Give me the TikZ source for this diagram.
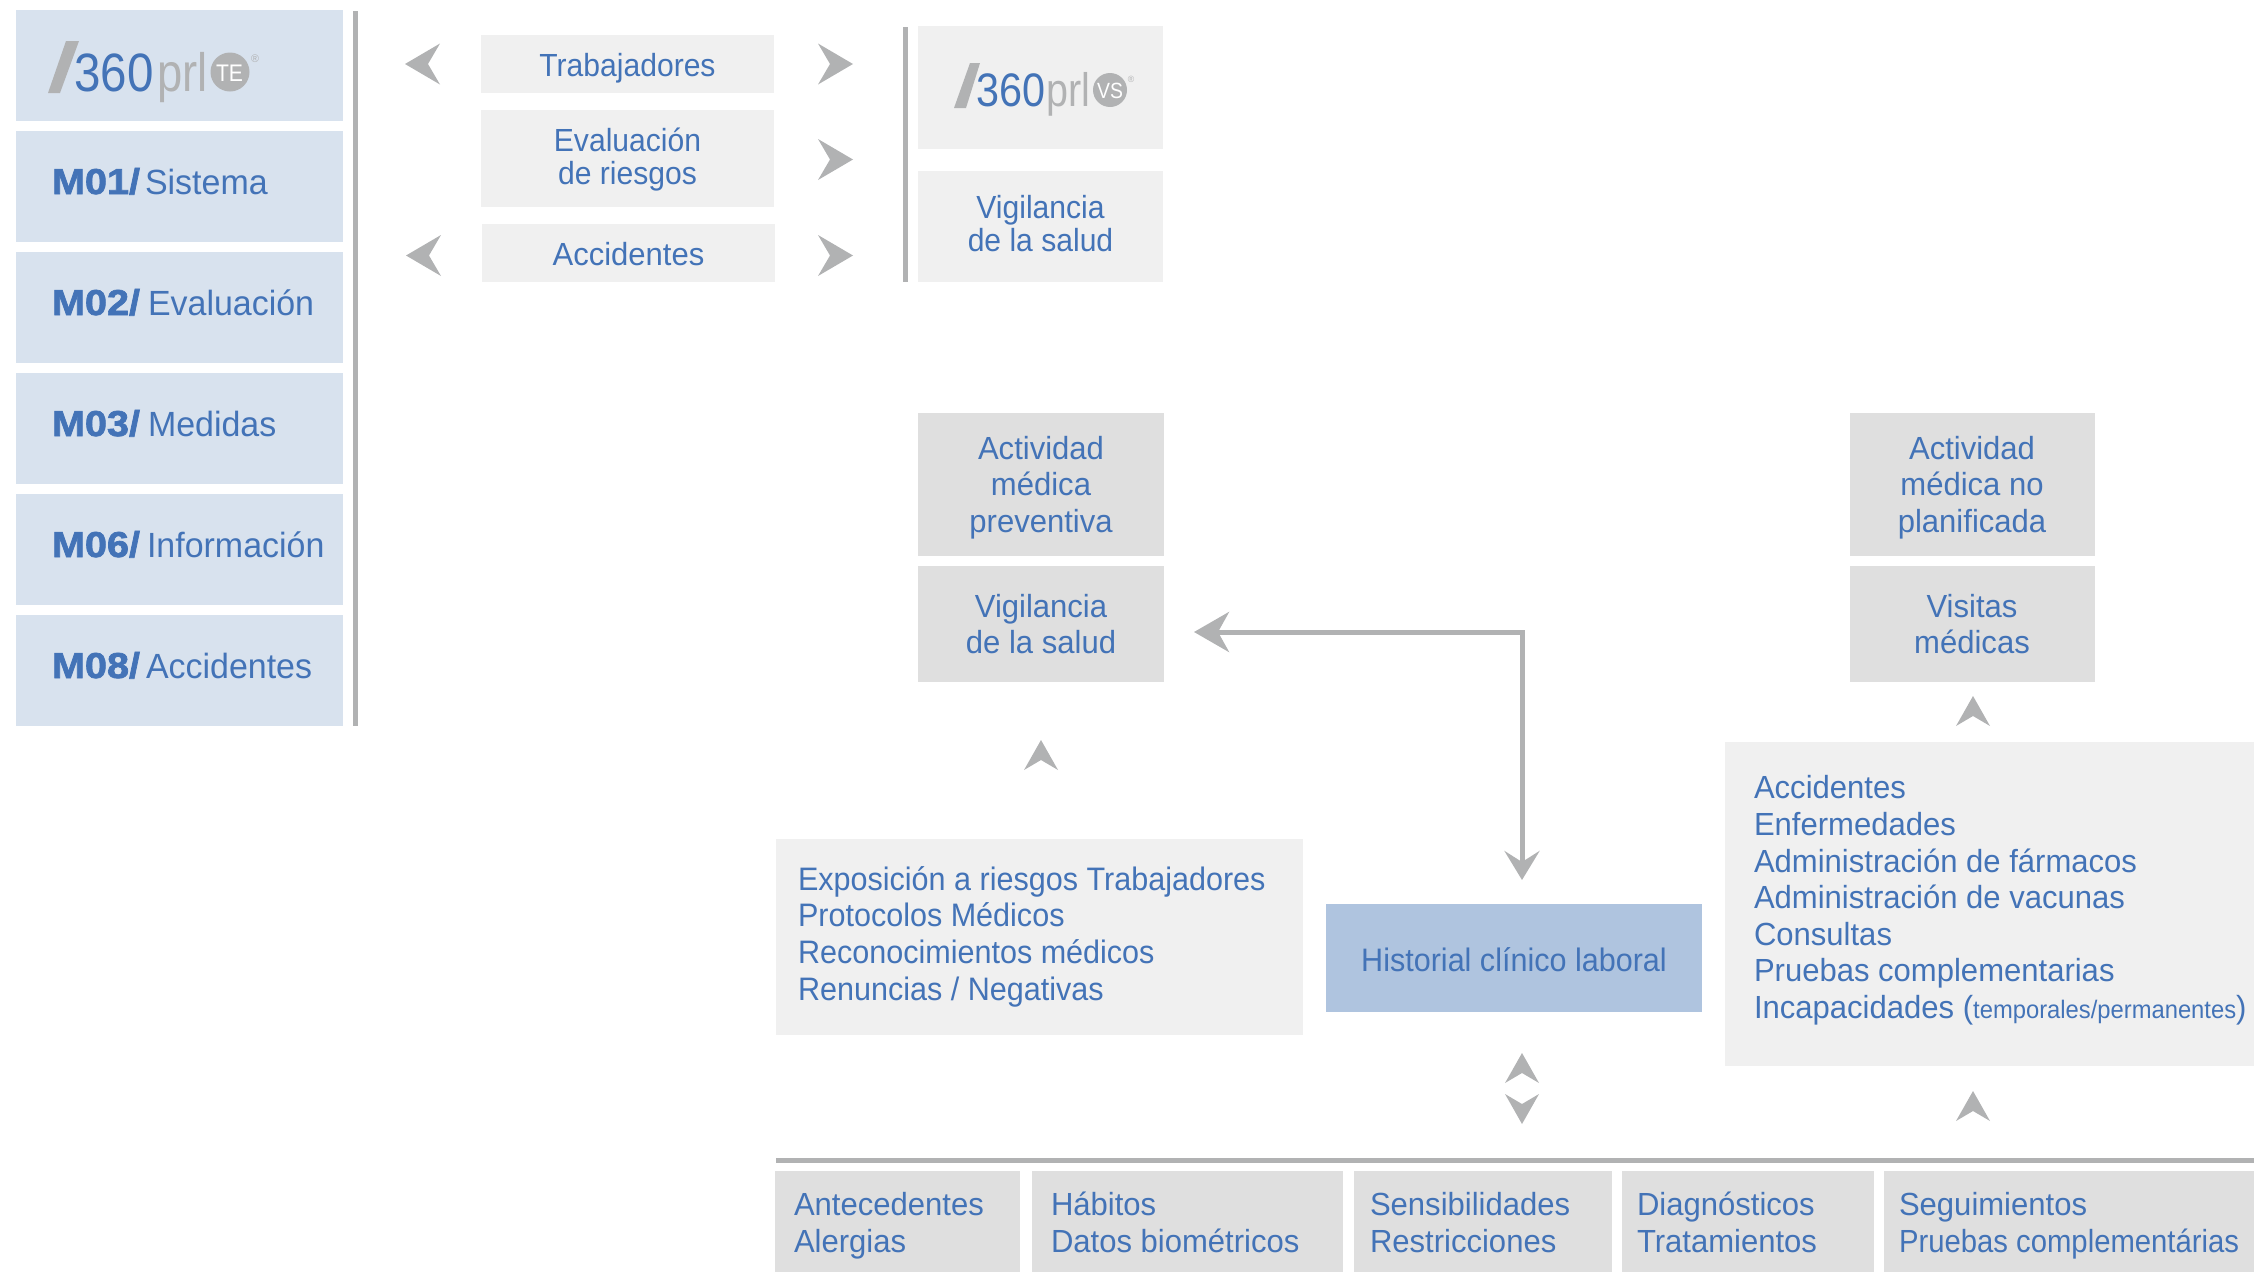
\documentclass[tikz,border=0pt]{standalone}
\usepackage{fontspec}
\usetikzlibrary{arrows.meta}
\setmainfont[FakeStretch=0.97]{Liberation Sans}
\newfontfamily\nar[FakeStretch=0.94]{Liberation Sans}
\newfontfamily\narr[FakeStretch=0.915]{Liberation Sans}
\newfontfamily\heavy[FakeStretch=1.1,BoldFeatures={FakeBold=2}]{Liberation Sans}
\newfontfamily\lgA[FakeStretch=0.88]{Liberation Sans}
\newfontfamily\lgB[FakeStretch=0.84]{Liberation Sans}
\definecolor{ink}{HTML}{4373B7}
\definecolor{sidebox}{HTML}{D8E2EE}
\definecolor{pale}{HTML}{F0F0F0}
\definecolor{mid}{HTML}{DFDFDF}
\definecolor{hist}{HTML}{AFC4DF}
\definecolor{rulegray}{HTML}{B1B2B3}
\newcommand{\hv}[1]{{\heavy\bfseries\fontsize{36}{36}\selectfont #1}}
\newcommand{\bx}[6]{%
  \fill[#2] (#3,#4) rectangle (#5,#6);
  \coordinate (#1) at ({(#3+#5)/2},{(#4+#6)/2});
}
\tikzset{
  x=1pt,y=-1pt,
  txt/.style={text=ink,inner sep=0pt,outer sep=0pt,align=center,font=\fontsize{32}{36.6}\selectfont},
  tight/.style={font=\nar\fontsize{32}{33}\selectfont},
  leftx/.style={align=left,anchor=base west},
  modtxt/.style={txt,anchor=base west,font=\fontsize{35}{36}\selectfont},
  bigchev/.pic={\path[fill=rulegray] (0,0)--(-35,20.5)--(-23,0)--(-35,-20.5)--cycle;},
  smallchev/.pic={\path[fill=rulegray] (0,0)--(-30,17)--(-20,0)--(-30,-17)--cycle;},
  lnk/.style={draw=rulegray,line width=5pt},
  logogray/.style={text=rulegray,inner sep=0pt,anchor=base west},
  logoink/.style={text=ink,inner sep=0pt,anchor=base west}
}
\begin{document}
\begin{tikzpicture}
\useasboundingbox (0,0) rectangle (2254,1272);
% side column
\bx{s0}{sidebox}{16}{10}{343}{121}
\bx{s1}{sidebox}{16}{131}{343}{242}
\bx{s2}{sidebox}{16}{252}{343}{363}
\bx{s3}{sidebox}{16}{373}{343}{484}
\bx{s4}{sidebox}{16}{494}{343}{605}
\bx{s5}{sidebox}{16}{615}{343}{726}
\coordinate (vt) at (355.5,11); \coordinate (vb) at (355.5,726);
\draw[lnk] (vt) -- (vb);
% logo TE
\path[fill=rulegray] (48,93)--(60,93)--(79,41)--(66,41)--cycle;
\node[logoink] (teA) at (74,91.5) {\lgA\fontsize{54}{54}\selectfont 360};
\node[logogray] (teB) at (157,91.5) {\lgB\fontsize{54}{54}\selectfont prl};
\fill[rulegray] (230,72) circle (19.5);
\node[inner sep=0pt,text=white,font=\lgA\fontsize{24}{24}\selectfont] (teC) at (229.5,73) {TE};
\node[logogray,anchor=center,font=\fontsize{11}{11}\selectfont] (teR) at (255,58.5) {®};
% modules
\node[modtxt] (m1) at (52,194) {\hv{M01/}\hspace{5pt}Sistema};
\node[modtxt] (m2) at (52,315) {\hv{M02/}\hspace{8pt}Evaluación};
\node[modtxt] (m3) at (52,436) {\hv{M03/}\hspace{8pt}Medidas};
\node[modtxt] (m6) at (52,557) {\hv{M06/}\hspace{7pt}Información};
\node[modtxt] (m8) at (52,678) {\hv{M08/}\hspace{6pt}Accidentes};
% top middle
\bx{t1}{pale}{481}{35}{774}{93}
\bx{t2}{pale}{481}{110}{774}{207}
\bx{t3}{pale}{482}{224}{775}{282}
\node[txt,tight,yshift=-4pt] (t1t) at (t1) {Trabajadores};
\node[txt,tight,yshift=-1.5pt] (t2t) at (t2) {Evaluación\\de riesgos};
\node[txt,font=\fontsize{32}{33}\selectfont,yshift=-1.5pt] (t3t) at (t3) {Accidentes};
\pic[rotate=180] at (405,64) {bigchev};
\pic[rotate=180] at (406,255.5) {bigchev};
\pic at (853,64) {bigchev};
\pic at (853,159.5) {bigchev};
\pic at (853,255.5) {bigchev};
\coordinate (wt) at (905,27); \coordinate (wb) at (905,282);
\draw[lnk] (wt) -- (wb);
% logo VS
\bx{v0}{pale}{918}{26}{1163}{149}
\bx{v1}{pale}{918}{171}{1163}{282}
\path[fill=rulegray] (954,108)--(966,108)--(980,63)--(970,63)--cycle;
\node[logoink] (vsA) at (976,106.5) {\lgA\fontsize{47}{47}\selectfont 360};
\node[logogray] (vsB) at (1046,106.5) {\lgB\fontsize{47}{47}\selectfont prl};
\fill[rulegray] (1110,90) circle (17);
\node[inner sep=0pt,text=white,font=\lgA\fontsize{22}{22}\selectfont] (vsC) at (1110,91) {VS};
\node[logogray,anchor=center,font=\fontsize{9}{9}\selectfont] (vsR) at (1131,79) {®};
\node[txt,tight,yshift=3pt] (v1t) at (v1) {Vigilancia\\de la salud};
% centre column
\bx{a1}{mid}{918}{413}{1164}{556}
\bx{a2}{mid}{918}{566}{1164}{682}
\node[txt,yshift=-3pt] (a1t) at (a1) {Actividad\\médica\\preventiva};
\node[txt] (a2t) at (a2) {Vigilancia\\de la salud};
\bx{b1}{mid}{1849.5}{413}{2094.5}{556}
\bx{b2}{mid}{1849.5}{566}{2094.5}{682}
\node[txt,yshift=-3pt] (b1t) at (b1) {Actividad\\médica no\\planificada};
\node[txt] (b2t) at (b2) {Visitas\\médicas};
\pic[rotate=90] at (1041,740) {smallchev};
\pic[rotate=90] at (1973,696) {smallchev};
% link
\coordinate (c1) at (1194,632); \coordinate (c2) at (1522,880);
\draw[lnk,{Stealth[length=35pt,width=40pt,inset=11pt]}-{Stealth[length=29pt,width=35pt,inset=11pt]}] (c1) -| (c2);
% lists
\bx{e}{pale}{776}{839}{1303}{1035}
\node[txt,leftx,font=\nar\fontsize{32.5}{36.6}\selectfont] (et) at (798,1000) {Exposición a riesgos Trabajadores\\Protocolos Médicos\\Reconocimientos médicos\\Renuncias / Negativas};
\bx{h}{hist}{1326}{904}{1702}{1012}
\node[txt,yshift=-1.5pt,font=\nar\fontsize{32.5}{36.6}\selectfont] (ht) at (h) {Historial clínico laboral};
\bx{r}{pale}{1725}{742}{2254}{1066}
\node[txt,leftx] (rt) at (1754,1018.5) {Accidentes\\Enfermedades\\Administración de fármacos\\Administración de vacunas\\Consultas\\Pruebas complementarias\\Incapacidades ({\nar\fontsize{25.3}{26}\selectfont temporales/permanentes})};
\pic[rotate=90] at (1522,1053) {smallchev};
\pic[rotate=-90] at (1522,1124) {smallchev};
\pic[rotate=90] at (1973,1091) {smallchev};
% bottom row
\coordinate (hl) at (776,1160.5); \coordinate (hr) at (2254,1160.5);
\draw[lnk] (hl) -- (hr);
\bx{d1}{mid}{775}{1171}{1020}{1272}
\bx{d2}{mid}{1032}{1171}{1343}{1272}
\bx{d3}{mid}{1354}{1171}{1612}{1272}
\bx{d4}{mid}{1622}{1171}{1874}{1272}
\bx{d5}{mid}{1884}{1171}{2254}{1272}
\node[txt,leftx] (d1t) at (794,1252) {Antecedentes\\Alergias};
\node[txt,leftx] (d2t) at (1051,1252) {Hábitos\\Datos biométricos};
\node[txt,leftx] (d3t) at (1370,1252) {Sensibilidades\\Restricciones};
\node[txt,leftx] (d4t) at (1637,1252) {Diagnósticos\\Tratamientos};
\node[txt,leftx] (d5t) at (1899,1252) {Seguimientos\\{\narr Pruebas complementárias}};
\end{tikzpicture}
\end{document}
